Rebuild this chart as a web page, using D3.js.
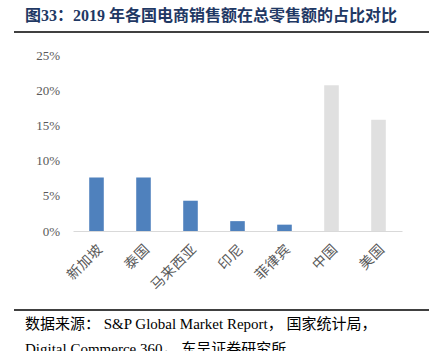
<!DOCTYPE html>
<html>
<head>
<meta charset="utf-8">
<script src="https://cdn.jsdelivr.net/npm/d3@7"></script>
<style>
  html, body { margin: 0; padding: 0; background: #fff; overflow: hidden; }
  svg { display: block; }
</style>
</head>
<body>
<svg width="430" height="351"></svg>
<script>
// data
const countries = ['新加坡', '泰国', '马来西亚', '印尼', '菲律宾', '中国', '美国'];
const shares = [7.6, 7.6, 4.3, 1.4, 0.9, 20.7, 15.8];
const highlight = [true, true, true, true, true, false, false];
const yTicks = [0, 5, 10, 15, 20, 25];

const svg = d3.select('svg');

// title + rules
svg.append('text')
  .attr('x', 25).attr('y', 21)
  .attr('fill', '#1f3864')
  .style('font-family', '"Liberation Serif", "Noto Sans CJK SC", serif')
  .style('font-weight', 'bold')
  .style('font-size', '16px')
  .text('图33：2019 年各国电商销售额在总零售额的占比对比');

svg.append('line')
  .attr('x1', 14).attr('x2', 429).attr('y1', 32).attr('y2', 32)
  .attr('stroke', '#000').attr('stroke-width', 1.5);

svg.append('line')
  .attr('x1', 14).attr('x2', 429).attr('y1', 310).attr('y2', 310)
  .attr('stroke', '#000').attr('stroke-width', 1.5);

const src = svg.append('text')
  .attr('fill', '#000')
  .style('font-family', '"Liberation Serif", "Noto Sans CJK SC", serif')
  .style('font-size', '15px');
src.append('tspan').attr('x', 25).attr('y', 329)
  .text('数据来源： S&P Global Market Report， 国家统计局，');
src.append('tspan').attr('x', 25).attr('y', 354)
  .text('Digital Commerce 360， 东吴证券研究所');

// chart
const x = d3.scaleBand()
  .domain(countries)
  .range([73, 402])
  .paddingInner(0.69)
  .paddingOuter(0.345);

const y = d3.scaleLinear()
  .domain([0, 25])
  .range([231, 55]);

const yAxis = svg.append('g')
  .attr('transform', 'translate(73,0)')
  .call(d3.axisLeft(y).tickValues(yTicks).tickFormat(d => d + '%').tickSize(0).tickPadding(13));
yAxis.select('.domain').remove();
yAxis.selectAll('text')
  .attr('fill', '#595959')
  .style('font-family', '"Liberation Serif", serif')
  .style('font-size', '13px');

svg.append('g')
  .selectAll('rect')
  .data(countries)
  .join('rect')
    .attr('x', d => x(d))
    .attr('y', (d, i) => y(shares[i]))
    .attr('width', x.bandwidth())
    .attr('height', (d, i) => y(0) - y(shares[i]))
    .attr('fill', (d, i) => highlight[i] ? '#4f81bd' : '#e0e0e0');

const xAxis = svg.append('g')
  .attr('transform', 'translate(0,231)')
  .call(d3.axisBottom(x.copy().paddingInner(0).paddingOuter(0)).tickSize(0).tickSizeOuter(0).tickPadding(0));
xAxis.select('.domain').attr('stroke', '#d9d9d9').attr('stroke-width', 1.2);
xAxis.selectAll('text')
  .attr('fill', '#595959')
  .style('font-family', '"Noto Sans CJK SC", sans-serif')
  .style('font-size', '14px')
  .style('letter-spacing', '0.5px')
  .style('text-anchor', 'end')
  .attr('dy', null)
  .attr('transform', 'translate(7,19) rotate(-45)');
</script>
</body>
</html>
